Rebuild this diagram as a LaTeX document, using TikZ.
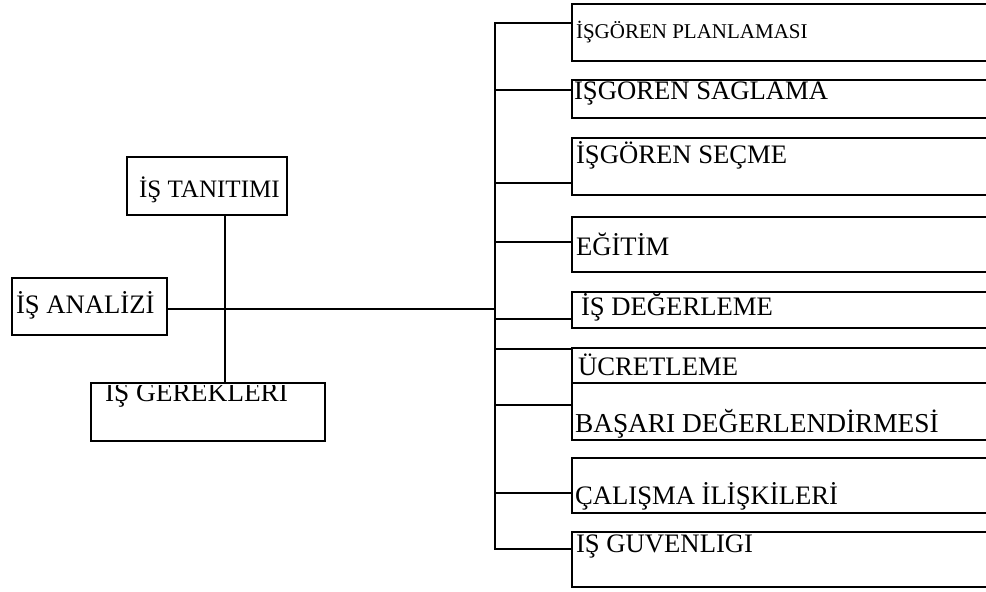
\documentclass[tikz,border=0pt]{standalone}
\usepackage{fontspec}
\setmainfont{Liberation Serif}
\begin{document}
\begin{tikzpicture}[x=0.75pt,y=-0.75pt,line width=1.6pt,
  box/.style={draw,rectangle,inner sep=0pt,outer sep=0pt,anchor=north west},
  sz/.style 2 args={minimum width={#1*0.75pt},minimum height={#2*0.75pt}},
  lbl/.style={anchor=base west,inner sep=0pt,font=\fontsize{20pt}{22pt}\selectfont},
  lblwide/.style={lbl,font=\fontsize{20.5pt}{22pt}\selectfont},
  lblsmall/.style={lbl,font=\fontsize{15.75pt}{18pt}\selectfont},
  lblleft/.style={lbl,font=\fontsize{18.8pt}{22pt}\selectfont},
  wire/.style={draw,line width=1.6pt}]
\useasboundingbox (0,0) rectangle (986,592);

% left-hand group
\node[box,sz={160}{58}] (tan) at (127,157) {};
\node[box,sz={155}{57}] (ana) at (12,278) {};
\node[box,sz={234}{58}] (ger) at (91,383) {};
\node[lblleft] (tTan) at (138,197) {İŞ TANITIMI};
\node[lbl] (tAna) at (15,313) {İŞ ANALİZİ};
\begin{scope}
  \clip (91,385) rectangle (330,450);
  \node[lbl,font=\fontsize{20.5pt}{22pt}\selectfont] (tGer) at (104,401) {İŞ GEREKLERİ};
\end{scope}

% right-hand boxes, open towards the right edge
\node[box,sz={430}{57}] (b1) at (572,4) {};
\node[box,sz={430}{38}] (b2) at (572,80) {};
\node[box,sz={430}{57}] (b3) at (572,138) {};
\node[box,sz={430}{55}] (b4) at (572,217) {};
\node[box,sz={430}{36}] (b5) at (572,292) {};
\node[box,sz={430}{35}] (b6) at (572,348) {};
\node[box,sz={430}{57}] (b7) at (572,383) {};
\node[box,sz={430}{55}] (b8) at (572,458) {};
\node[box,sz={430}{55}] (b9) at (572,532) {};

\node[lblsmall] (t1) at (575,39) {İŞGÖREN PLANLAMASI};
\begin{scope}
  \clip (572,81) rectangle (1000,130);
  \node[lbl] (t2) at (573,100) {İŞGÖREN SAĞLAMA};
\end{scope}
\node[lbl] (t3) at (575,163) {İŞGÖREN SEÇME};
\node[lbl] (t4) at (575,255) {EĞİTİM};
\node[lbl] (t5) at (580,315) {İŞ DEĞERLEME};
\node[lbl] (t6) at (577,375) {ÜCRETLEME};
\node[lblwide] (t7) at (574,432) {BAŞARI DEĞERLENDİRMESİ};
\node[lbl] (t8) at (574,504) {ÇALIŞMA İLİŞKİLERİ};
\begin{scope}
  \clip (572,533) rectangle (1000,590);
  \node[lbl] (t9) at (575,552) {İŞ GÜVENLİĞİ};
\end{scope}

% junction points on the vertical bus
\coordinate (v) at (225,0);
\coordinate (j0) at (495,309);
\coordinate (j1) at (495,23);
\coordinate (j2) at (495,90);
\coordinate (j3) at (495,183);
\coordinate (j4) at (495,242);
\coordinate (j5) at (495,319);
\coordinate (j6) at (495,349);
\coordinate (j7) at (495,405);
\coordinate (j8) at (495,493);
\coordinate (j9) at (495,549);

% connectors
\draw[wire] (tan.south -| v) -- (ger.north -| v);
\draw[wire] (ana.east |- j0) -- (j0);
\draw[wire] (b1.west |- j1) -- (j1) -- (j9) -- (b9.west |- j9);
\foreach \k in {2,...,8} {
  \draw[wire] (j\k) -- (b\k.west |- j\k);
}
\end{tikzpicture}
\end{document}
